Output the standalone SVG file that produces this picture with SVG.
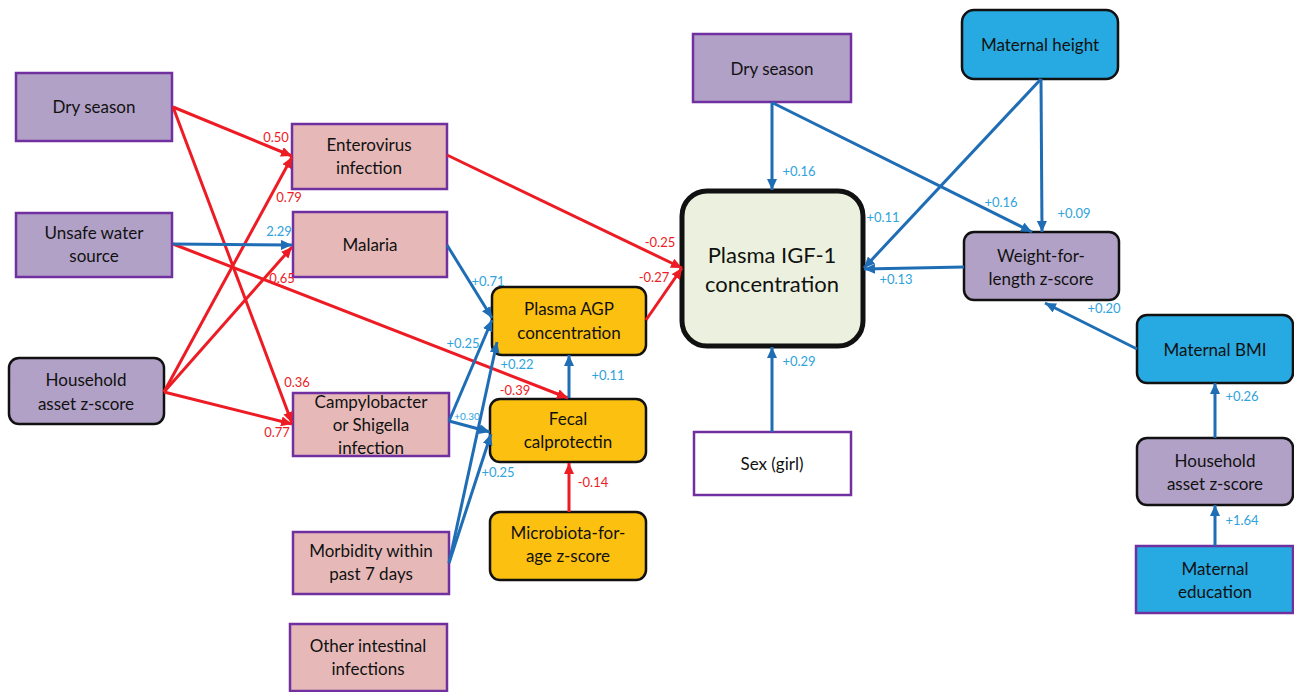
<svg xmlns="http://www.w3.org/2000/svg" width="1294" height="692" viewBox="0 0 1294 692">
<style>
.nt{font-family:Lato,"Open Sans","Liberation Sans",sans-serif;font-size:17px;fill:#111;text-anchor:middle}
.big{font-size:22px}
.pur{fill:#b2a1c7;stroke:#7030a0;stroke-width:2.5}
.purb{fill:#b2a1c7;stroke:#111;stroke-width:2.5}
.pink{fill:#e6b9b8;stroke:#7030a0;stroke-width:2.5}
.org{fill:#fcc010;stroke:#111;stroke-width:2.5}
.blu{fill:#27aae1;stroke:#111;stroke-width:2.5}
.blup{fill:#27aae1;stroke:#7030a0;stroke-width:2.5}
.wht{fill:#fff;stroke:#7030a0;stroke-width:2.5}
.igf{fill:#ebf1de;stroke:#111;stroke-width:5}
.r{stroke:#ed1c24;stroke-width:3;fill:none;marker-end:url(#ar)}
.b{stroke:#1f6db5;stroke-width:3;fill:none;marker-end:url(#ab)}
.lr{font-family:Lato,"Open Sans","Liberation Sans",sans-serif;font-size:13px;fill:#ed1c24;text-anchor:middle}
.lb{font-family:Lato,"Open Sans","Liberation Sans",sans-serif;font-size:13px;fill:#2ea3dc;text-anchor:middle}
.sm{font-size:10px}
</style>
<defs>
<marker id="ar" markerUnits="userSpaceOnUse" markerWidth="12" markerHeight="10" refX="11" refY="5" orient="auto"><path d="M0,0 L11,5 L0,10 z" fill="#ed1c24"/></marker>
<marker id="ab" markerUnits="userSpaceOnUse" markerWidth="12" markerHeight="10" refX="11" refY="5" orient="auto"><path d="M0,0 L11,5 L0,10 z" fill="#1f6db5"/></marker>
</defs>
<rect width="1294" height="692" fill="#fff"/>

<g id="n-dry-left"><rect class="pur" x="16" y="73" width="156" height="68"/><text class="nt" x="94" y="113">Dry season</text></g>
<g id="n-unsafe"><rect class="pur" x="16" y="213" width="156" height="64"/><text class="nt" x="94" y="239">Unsafe water</text><text class="nt" x="94" y="262">source</text></g>
<g id="n-hh-left"><rect class="purb" x="9" y="358" width="155" height="66" rx="10"/><text class="nt" x="86" y="386">Household</text><text class="nt" x="86" y="410">asset z-score</text></g>
<g id="n-entero"><rect class="pink" x="292" y="124" width="155" height="65"/><text class="nt" x="369" y="151">Enterovirus</text><text class="nt" x="369" y="174">infection</text></g>
<g id="n-malaria"><rect class="pink" x="293" y="212" width="154" height="65"/><text class="nt" x="370" y="251">Malaria</text></g>
<g id="n-campy"><rect class="pink" x="293" y="393" width="156" height="63"/><text class="nt" x="371" y="408">Campylobacter</text><text class="nt" x="371" y="431">or Shigella</text><text class="nt" x="371" y="454">infection</text></g>
<g id="n-morb"><rect class="pink" x="293" y="532" width="156" height="62"/><text class="nt" x="371" y="557">Morbidity within</text><text class="nt" x="371" y="580">past 7 days</text></g>
<g id="n-other"><rect class="pink" x="290" y="624" width="157" height="67"/><text class="nt" x="368" y="652">Other intestinal</text><text class="nt" x="368" y="675">infections</text></g>
<g id="n-agp"><rect class="org" x="492" y="287" width="154" height="68" rx="10"/><text class="nt" x="569" y="315">Plasma AGP</text><text class="nt" x="569" y="339">concentration</text></g>
<g id="n-fecal"><rect class="org" x="490" y="399" width="156" height="63" rx="10"/><text class="nt" x="568" y="425">Fecal</text><text class="nt" x="568" y="448">calprotectin</text></g>
<g id="n-micro"><rect class="org" x="490" y="512" width="156" height="68" rx="10"/><text class="nt" x="568" y="539">Microbiota-for-</text><text class="nt" x="568" y="562">age z-score</text></g>
<g id="n-igf"><rect class="igf" x="682" y="191" width="181" height="155" rx="25"/><text class="nt big" x="772" y="263">Plasma IGF-1</text><text class="nt big" x="772" y="292">concentration</text></g>
<g id="n-dry-center"><rect class="pur" x="693" y="34" width="158" height="68"/><text class="nt" x="772" y="75">Dry season</text></g>
<g id="n-sex"><rect class="wht" x="694" y="432" width="157" height="63"/><text class="nt" x="772" y="470">Sex (girl)</text></g>
<g id="n-mheight"><rect class="blu" x="962" y="10" width="156" height="69" rx="12"/><text class="nt" x="1040" y="51">Maternal height</text></g>
<g id="n-wfl"><rect class="purb" x="964" y="232" width="155" height="68" rx="10"/><text class="nt" x="1041" y="262">Weight-for-</text><text class="nt" x="1041" y="285">length z-score</text></g>
<g id="n-bmi"><rect class="blu" x="1137" y="315" width="156" height="68" rx="10"/><text class="nt" x="1215" y="356">Maternal BMI</text></g>
<g id="n-hh-right"><rect class="purb" x="1137" y="438" width="156" height="67" rx="10"/><text class="nt" x="1215" y="467">Household</text><text class="nt" x="1215" y="490">asset z-score</text></g>
<g id="n-medu"><rect class="blup" x="1136" y="546" width="157" height="67"/><text class="nt" x="1215" y="575">Maternal</text><text class="nt" x="1215" y="598">education</text></g>

<g id="connectors">
<line class="r" x1="173" y1="107" x2="292" y2="156"/>
<line class="r" x1="173" y1="107" x2="292" y2="423"/>
<line class="r" x1="164" y1="392" x2="292" y2="157"/>
<line class="r" x1="164" y1="392" x2="292" y2="247"/>
<line class="r" x1="164" y1="392" x2="292" y2="424"/>
<line class="r" x1="173" y1="244" x2="568" y2="398"/>
<line class="r" x1="447" y1="155" x2="682" y2="268"/>
<line class="r" x1="646" y1="320" x2="682" y2="268"/>
<line class="r" x1="569" y1="512" x2="569" y2="463"/>
<line class="b" x1="173" y1="244" x2="292" y2="245"/>
<line class="b" x1="447" y1="245" x2="492" y2="318"/>
<line class="b" x1="449" y1="421" x2="492" y2="320"/>
<line class="b" x1="449" y1="421" x2="490" y2="432"/>
<line class="b" x1="449" y1="563" x2="497" y2="342"/>
<line class="b" x1="449" y1="563" x2="491" y2="434"/>
<line class="b" x1="569" y1="398" x2="569" y2="355"/>
<line class="b" x1="772" y1="102" x2="772" y2="190"/>
<line class="b" x1="773" y1="103" x2="1032" y2="232"/>
<line class="b" x1="1041" y1="79" x2="1042" y2="232"/>
<line class="b" x1="1041" y1="79" x2="864" y2="268"/>
<line class="b" x1="964" y1="267" x2="864" y2="269"/>
<line class="b" x1="1137" y1="349" x2="1045" y2="303"/>
<line class="b" x1="1215" y1="438" x2="1215" y2="383"/>
<line class="b" x1="1215" y1="546" x2="1215" y2="505"/>
<line class="b" x1="772" y1="432" x2="772" y2="347"/>
</g>

<g id="labels">
<text class="lr" x="276" y="142">0.50</text>
<text class="lr" x="289" y="202">0.79</text>
<text class="lb" x="279" y="236">2.29</text>
<text class="lr" x="282" y="283">0.65</text>
<text class="lr" x="297" y="387">0.36</text>
<text class="lr" x="277" y="437">0.77</text>
<text class="lb" x="488" y="286">+0.71</text>
<text class="lb" x="463" y="348">+0.25</text>
<text class="lb" x="517" y="369">+0.22</text>
<text class="lr" x="515" y="395">-0.39</text>
<text class="lb" x="608" y="380">+0.11</text>
<text class="lb sm" x="467" y="420">+0.30</text>
<text class="lb" x="498" y="477">+0.25</text>
<text class="lr" x="593" y="487">-0.14</text>
<text class="lr" x="660" y="247">-0.25</text>
<text class="lr" x="654" y="282">-0.27</text>
<text class="lb" x="799" y="176">+0.16</text>
<text class="lb" x="1001" y="207">+0.16</text>
<text class="lb" x="883" y="222">+0.11</text>
<text class="lb" x="1074" y="218">+0.09</text>
<text class="lb" x="896" y="284">+0.13</text>
<text class="lb" x="1104" y="313">+0.20</text>
<text class="lb" x="1242" y="401">+0.26</text>
<text class="lb" x="1242" y="525">+1.64</text>
<text class="lb" x="799" y="366">+0.29</text>
</g>
</svg>
